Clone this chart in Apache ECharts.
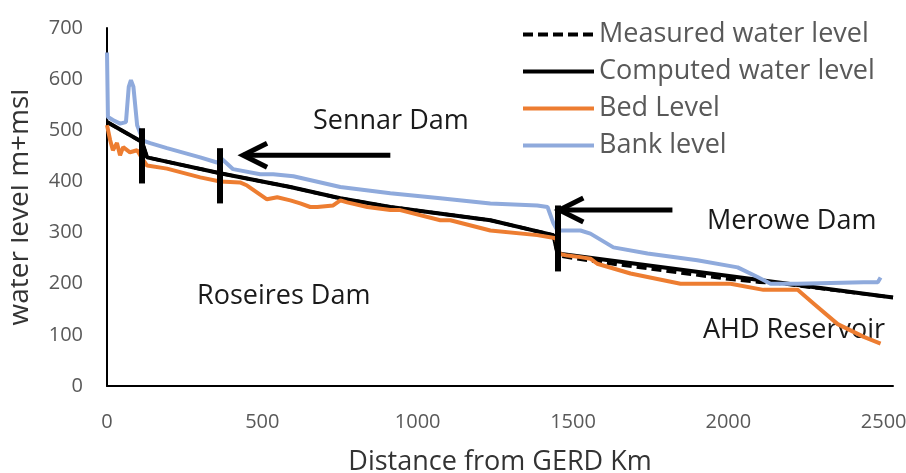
<!DOCTYPE html>
<html>
<head>
<meta charset="utf-8">
<script src="https://cdn.jsdelivr.net/npm/echarts@6/dist/echarts.min.js"></script>
<style>
  html, body { margin: 0; padding: 0; background: #fff; }
  #chart { width: 906px; height: 473px; }
</style>
</head>
<body>
<div id="chart"></div>
<script>
// legend order
const seriesNames = ['Measured water level', 'Computed water level', 'Bed Level', 'Bank level'];

// [distance km, level m+msl]
const computedLevel = [
  [0, 516], [113, 477], [129, 447], [364, 416], [590, 389], [751, 367], [912, 350],
  [1234, 324], [1437, 295], [1450, 259], [2530, 173]
];
const measuredLevel = [
  [0, 516], [113, 477], [129, 447], [364, 416], [590, 389], [751, 367], [912, 350],
  [1234, 324], [1437, 295], [1450, 259], [1470, 253], [1600, 241], [1800, 225],
  [2000, 209], [2100, 203], [2150, 202], [2530, 173]
];
const bedLevel = [
  [0, 510], [10, 481], [19, 461], [32, 475], [42, 451], [52, 467], [74, 457], [97, 461],
  [113, 445], [129, 431], [193, 425], [300, 408], [364, 400], [428, 398], [451, 392],
  [515, 365], [548, 369], [590, 363], [622, 357], [654, 350], [677, 350], [728, 353],
  [751, 363], [773, 359], [838, 350], [912, 344], [944, 344], [1073, 324], [1105, 324],
  [1234, 304], [1385, 295], [1445, 289], [1458, 258], [1482, 255], [1524, 252],
  [1556, 249], [1578, 239], [1685, 220], [1846, 200], [2007, 200], [2113, 188],
  [2223, 188], [2275, 161], [2352, 121], [2436, 96], [2490, 83]
];
const bankLevel = [
  [0, 652], [3, 526], [19, 520], [42, 513], [61, 516], [70, 585], [77, 598], [85, 585],
  [97, 510], [116, 480], [139, 475], [193, 465], [300, 447], [354, 437], [370, 444],
  [406, 424], [493, 414], [535, 414], [600, 410], [751, 389], [912, 377], [1073, 367],
  [1234, 357], [1385, 353], [1418, 350], [1437, 318], [1450, 304], [1482, 304],
  [1524, 304], [1556, 298], [1630, 271], [1740, 259], [1900, 246], [2030, 232],
  [2094, 213], [2136, 200], [2223, 200], [2436, 203], [2481, 203], [2490, 212]
];

// dam markers: [km, top level, bottom level]
const damMarks = [[113, 504, 396], [364, 465, 357], [1450, 353, 224]];
// arrows: tail and tip in data coords
const arrows = [
  { tail: [912, 451], tip: [438, 451] },
  { tail: [1820, 344], tip: [1456, 344] }
];
const notes = [
  { text: 'Sennar Dam', x: 313, y: 121 },
  { text: 'Merowe Dam', x: 707, y: 221 },
  { text: 'Roseires Dam', x: 197, y: 296 },
  { text: 'AHD Reservoir', x: 703, y: 330 }
];

const font = 'Open Sans';
const chart = echarts.init(document.getElementById('chart'));

const option = {
  animation: false,
  grid: { left: 107, right: 13, top: 28, bottom: 87, outerBoundsMode: 'none' },
  legend: {
    orient: 'vertical',
    left: 516,
    top: 16,
    itemWidth: 71,
    itemHeight: 14,
    itemGap: 10,
    lineStyle: { width: 4 },
    itemStyle: { opacity: 0 },
    textStyle: { fontFamily: font, fontSize: 27, color: '#595959' },
    data: seriesNames
  },
  xAxis: {
    type: 'value',
    min: 0,
    max: 2530,
    interval: 500,
    name: 'Distance from GERD Km',
    nameLocation: 'middle',
    nameGap: 63,
    nameTextStyle: { fontFamily: font, fontSize: 27, color: '#333' },
    axisLine: { show: true, lineStyle: { color: '#000', width: 2 } },
    axisTick: { show: false },
    splitLine: { show: false },
    axisLabel: {
      fontFamily: font, fontSize: 20, color: '#595959', margin: 26, showMaxLabel: false,
      formatter: v => String(v)
    }
  },
  yAxis: {
    type: 'value',
    min: 0,
    max: 700,
    interval: 100,
    name: 'water level m+msl',
    nameLocation: 'middle',
    nameGap: 73,
    nameTextStyle: { fontFamily: font, fontSize: 28, color: '#333' },
    axisLine: { show: true, lineStyle: { color: '#000', width: 2 } },
    axisTick: { show: false },
    splitLine: { show: false },
    axisLabel: { fontFamily: font, fontSize: 20, color: '#595959', margin: 24 }
  },
  series: [
    {
      name: seriesNames[0],
      type: 'line',
      symbol: 'none',
      data: measuredLevel,
      lineStyle: { color: '#000', width: 3.5, type: [10, 5] },
      itemStyle: { color: '#000' }
    },
    {
      name: seriesNames[1],
      type: 'line',
      symbol: 'none',
      data: computedLevel,
      lineStyle: { color: '#000', width: 4 },
      itemStyle: { color: '#000' },
      markLine: {
        silent: true,
        symbol: 'none',
        label: { show: false },
        lineStyle: { color: '#000', width: 6, type: 'solid' },
        data: damMarks.map(d => [{ coord: [d[0], d[1]] }, { coord: [d[0], d[2]] }])
      }
    },
    {
      name: seriesNames[2],
      type: 'line',
      symbol: 'none',
      data: bedLevel,
      lineStyle: { color: '#ED7D31', width: 4 },
      itemStyle: { color: '#ED7D31' }
    },
    {
      name: seriesNames[3],
      type: 'line',
      symbol: 'none',
      data: bankLevel,
      lineStyle: { color: '#8FAADC', width: 4 },
      itemStyle: { color: '#8FAADC' }
    }
  ]
};

chart.setOption(option);

// arrows and dam names
const px = p => chart.convertToPixel({ gridIndex: 0 }, p);
const graphic = [];
arrows.forEach(a => {
  const t = px(a.tail), h = px(a.tip);
  graphic.push({
    type: 'polyline',
    shape: { points: [t, h] },
    style: { stroke: '#000', lineWidth: 5, fill: null }
  });
  graphic.push({
    type: 'polyline',
    shape: { points: [[h[0] + 24, h[1] - 12], h, [h[0] + 24, h[1] + 12]] },
    style: { stroke: '#000', lineWidth: 5, fill: null, lineJoin: 'miter' }
  });
});
notes.forEach(n => {
  graphic.push({
    type: 'text',
    x: n.x,
    y: n.y,
    style: { text: n.text, font: '27px "Open Sans"', fill: '#1a1a1a', verticalAlign: 'middle' }
  });
});
// the reference picture is cropped through the top of the y axis title
graphic.push({
  type: 'rect',
  z: 100,
  shape: { x: 0, y: 80, width: 11, height: 260 },
  style: { fill: '#fff' }
});
chart.setOption({ graphic: graphic });
</script>
</body>
</html>
